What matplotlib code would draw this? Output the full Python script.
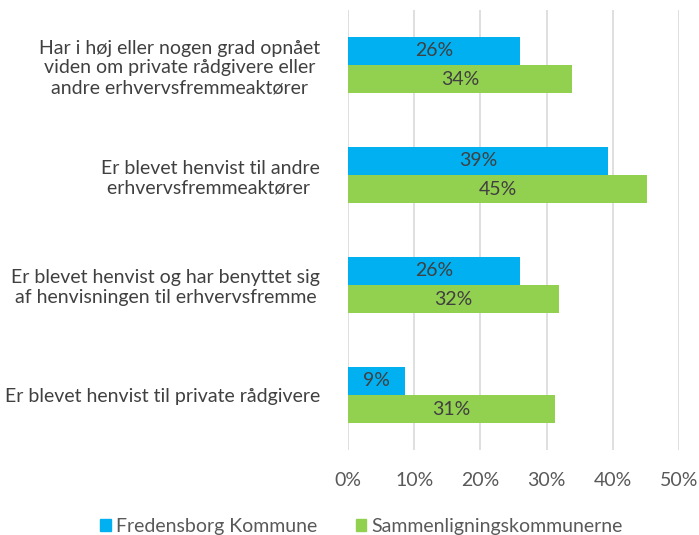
import numpy as np
import matplotlib.pyplot as plt
from matplotlib.patches import Patch

plt.rcParams['font.family'] = ['Lato', 'DejaVu Sans']

categories = [
    'Har i høj eller nogen grad opnået\nviden om private rådgivere eller\nandre erhvervsfremmeaktører',
    'Er blevet henvist til andre\nerhvervsfremmeaktører ',
    'Er blevet henvist og har benyttet sig\naf henvisningen til erhvervsfremme',
    'Er blevet henvist til private rådgivere',
]
fredensborg = [26, 39, 26, 9]
sammenligning = [34, 45, 32, 31]
fredensborg_plot = [26.0, 39.3, 26.0, 8.6]
sammenligning_plot = [33.8, 45.2, 31.9, 31.3]
series_names = ['Fredensborg Kommune', 'Sammenligningskommunerne']

blue = '#00B0F0'
green = '#92D050'
text_col = '#404040'
fs = 14

fig = plt.figure(figsize=(6.99, 5.35), dpi=100)
axis = fig.add_axes([348 / 699, 1 - 450 / 535, (679 - 348) / 699, 440 / 535])

y = np.arange(len(categories))
h = 0.255
axis.barh(y - h / 2, fredensborg_plot, height=h, color=blue, zorder=3)
axis.barh(y + h / 2, sammenligning_plot, height=h, color=green, zorder=3)

for yi, v, p in zip(y, fredensborg, fredensborg_plot):
    axis.text(p / 2, yi - h / 2, f'{v}%', ha='center', va='center', fontsize=fs, color=text_col, zorder=4)
for yi, v, p in zip(y, sammenligning, sammenligning_plot):
    axis.text(p / 2, yi + h / 2, f'{v}%', ha='center', va='center', fontsize=fs, color=text_col, zorder=4)

axis.set_xlim(0, 50)
axis.set_ylim(len(categories) - 0.5, -0.5)
axis.set_xticks(range(0, 51, 10))
axis.set_xticklabels([f'{t}%' for t in range(0, 51, 10)])
axis.set_yticks(y)
axis.set_yticklabels(categories, multialignment='center')
axis.tick_params(axis='x', length=0, pad=16, labelsize=fs, labelcolor='#595959')
axis.tick_params(axis='y', length=0, pad=20, labelsize=fs, labelcolor=text_col)
axis.grid(axis='x', color='#D9D9D9', linewidth=1.2, zorder=0)
for s in axis.spines.values():
    s.set_visible(False)

handles = [Patch(color=blue), Patch(color=green)]
fig.legend(handles, series_names, loc='lower center', bbox_to_anchor=(0.517, -0.033), ncol=2,
           frameon=False, fontsize=fs, labelcolor='#595959', handlelength=0.55, handleheight=0.55,
           handletextpad=0.25, columnspacing=2.0)

fig.savefig('out.png', dpi=100)
